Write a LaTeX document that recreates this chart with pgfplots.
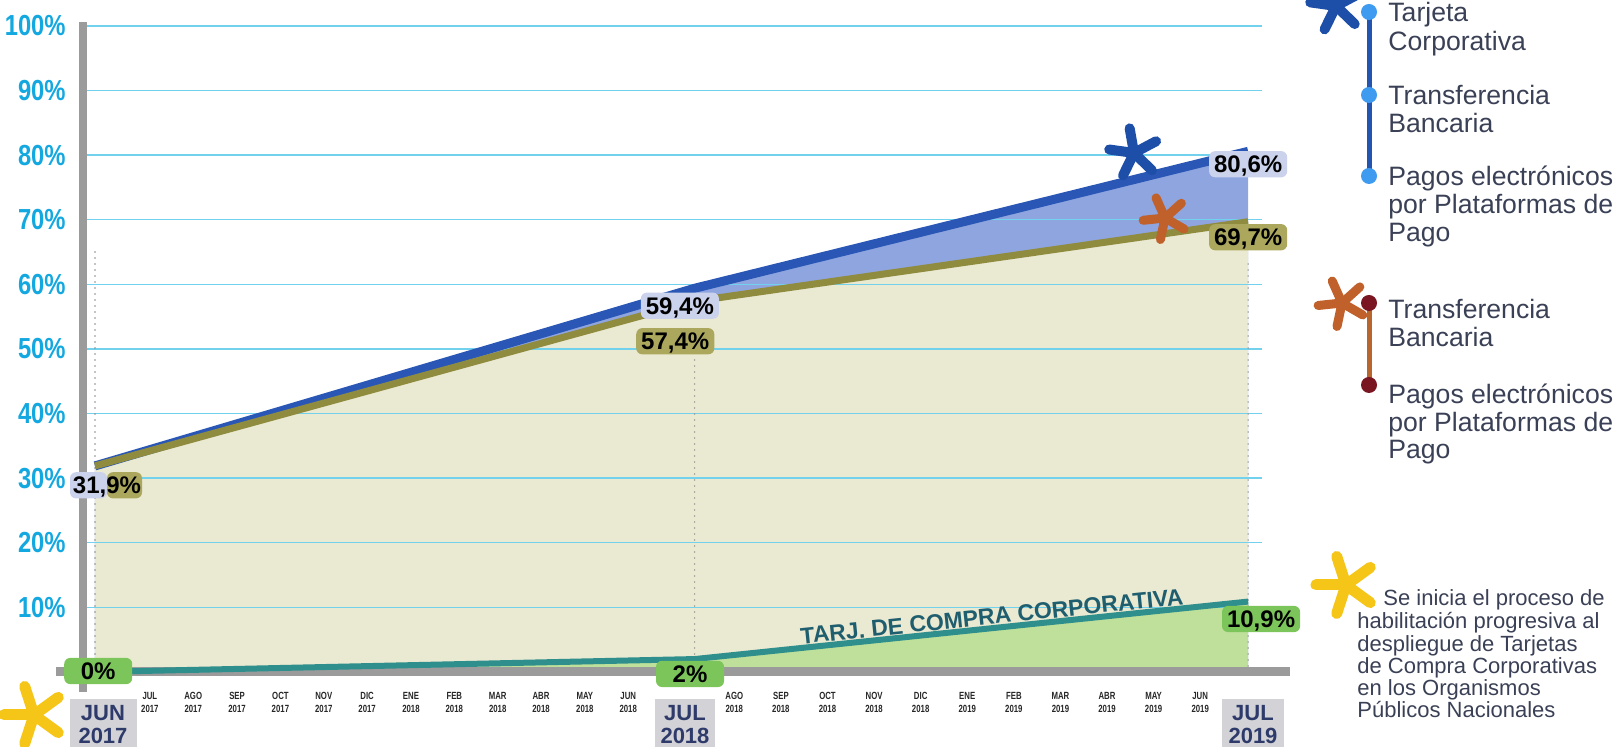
\documentclass[border=0pt]{standalone}
\usepackage{fontspec}
\setmainfont{Liberation Sans}
\newfontfamily\condfont[FakeStretch=0.82]{Liberation Sans}
\newfontfamily\narrowfont[FakeStretch=0.75]{Liberation Sans}
\usepackage{pgfplots}
\pgfplotsset{compat=1.18}
\definecolor{tickcyan}{HTML}{14A8E0}
\definecolor{gridcyan}{HTML}{72D2EE}
\definecolor{blueline}{HTML}{2A57B5}
\definecolor{bluefill}{HTML}{8FA5DF}
\definecolor{oliveline}{HTML}{8F8C3F}
\definecolor{beige}{HTML}{EAE9D2}
\definecolor{tealline}{HTML}{2F8F8C}
\definecolor{greenfill}{HTML}{BFE09A}
\definecolor{greenbox}{HTML}{7CC55A}
\definecolor{lavender}{HTML}{CBD2EC}
\definecolor{olivebox}{HTML}{ABA85E}
\definecolor{bargray}{HTML}{9B9B9B}
\definecolor{dotgray}{HTML}{8A8A8A}
\definecolor{monthgray}{HTML}{D3D3D7}
\definecolor{navy}{HTML}{2D3A6A}
\definecolor{legtext}{HTML}{3A4055}
\definecolor{tealtext}{HTML}{1F5E6E}
\definecolor{legblue}{HTML}{2354B0}
\definecolor{dotblue}{HTML}{3F9BF0}
\definecolor{legorange}{HTML}{B8652E}
\definecolor{darkred}{HTML}{7A1622}
\definecolor{astblue}{HTML}{1E4FA8}
\definecolor{astorange}{HTML}{C0602A}
\definecolor{astyellow}{HTML}{F5C518}
\newcommand{\astmark}[6]{%
  \begin{scope}[shift={(#1,#2)}]
  \foreach \a in {0,72,144,216,288}{\draw[#4, line width=#5, line cap=round] (0,0) -- ({\a+#6}:#3);}
  \end{scope}}
\tikzset{lab/.style={font=\bfseries\fontsize{12}{12}\selectfont, text=black, rounded corners=3pt, inner xsep=2.5pt, inner ysep=2.2pt, text height=8.7pt, text depth=0pt},
  gbox/.style={lab, fill=greenbox, minimum width=34pt}}
\begin{document}
\begin{tikzpicture}
\begin{axis}[
  at={(41.5pt,37.5pt)}, anchor=south west,
  scale only axis, width=589.5pt, height=323pt,
  xmin=-0.26, xmax=25.3, ymin=0, ymax=100,
  set layers, clip=false,
  axis line style={draw=none},
  major tick length=0pt,
  ytick={10,20,30,40,50,60,70,80,90,100},
  yticklabels={10\%,20\%,30\%,40\%,50\%,60\%,70\%,80\%,90\%,100\%},
  yticklabel style={font=\condfont\bfseries\fontsize{14.5}{15}\selectfont, text=tickcyan, anchor=east, inner sep=0pt, xshift=-8.5pt},
  ymajorgrids, grid style={gridcyan, line width=0.7pt},
  xtick={1.19,2.13,3.08,4.02,4.96,5.90,6.85,7.79,8.73,9.67,10.62,11.56,13.86,14.87,15.88,16.89,17.90,18.91,19.92,20.93,21.94,22.95,23.96},
  xticklabels={JUL\\2017,AGO\\2017,SEP\\2017,OCT\\2017,NOV\\2017,DIC\\2017,ENE\\2018,FEB\\2018,MAR\\2018,ABR\\2018,MAY\\2018,JUN\\2018,AGO\\2018,SEP\\2018,OCT\\2018,NOV\\2018,DIC\\2018,ENE\\2019,FEB\\2019,MAR\\2019,ABR\\2019,MAY\\2019,JUN\\2019},
  xticklabel style={font=\narrowfont\bfseries\fontsize{5.2}{6.5}\selectfont, text=black!85, align=center, inner sep=0pt, anchor=north, yshift=-10pt},
]
% areas
\addplot[draw=none, fill=bluefill, on layer=axis background] coordinates {(0,31.9) (13,59.4) (25,80.6)} \closedcycle;
\addplot[draw=none, fill=beige, on layer=axis background] coordinates {(0,31.9) (13,57.4) (25,69.7)} \closedcycle;
\addplot[draw=none, fill=greenfill, on layer=axis background] coordinates {(0,0) (13,2) (25,10.9)} \closedcycle;
% reference dotted lines
\draw[dotgray, line width=0.8pt, line cap=round, dash pattern=on 0pt off 3pt] (axis cs:0,0) -- (axis cs:0,65.8);
\draw[dotgray, line width=0.8pt, line cap=round, dash pattern=on 0pt off 3pt] (axis cs:13,0) -- (axis cs:13,49);
\draw[dotgray, line width=0.8pt, line cap=round, dash pattern=on 0pt off 3pt] (axis cs:25,0) -- (axis cs:25,64);
% axis bars
\draw[bargray, line width=4pt] (axis cs:-0.26,-3.1) -- (axis cs:-0.26,100.6);
\draw[bargray, line width=4.5pt] (axis cs:-0.85,0) -- (axis cs:25.9,0);
% lines
\addplot[blueline, line width=4.5pt, mark=none] coordinates {(0,31.9) (13,59.4) (25,80.6)};
\addplot[oliveline, line width=3.5pt, mark=none] coordinates {(0,31.9) (13,57.4) (25,69.7)};
\addplot[tealline, line width=3pt, mark=none] coordinates {(0,0) (13,2) (25,10.9)};
% labels
\node[lab, fill=olivebox, minimum width=17.5pt] at (axis cs:0.64,28.9) {};
\node[lab, fill=lavender, minimum width=18.5pt] at (axis cs:-0.14,28.9) {};
\node[lab] at (axis cs:0.26,28.9) {31,9\%};
\node[lab, fill=lavender] at (axis cs:12.68,56.7) {59,4\%};
\node[lab, fill=olivebox] at (axis cs:12.58,51.2) {57,4\%};
\node[lab, fill=lavender] at (axis cs:25,78.6) {80,6\%};
\node[lab, fill=olivebox] at (axis cs:25,67.3) {69,7\%};
\node[gbox] at (axis cs:0.07,0.15) {0\%};
\node[gbox] at (axis cs:12.9,-0.3) {2\%};
\node[gbox] at (axis cs:25.28,8.2) {10,9\%};
\node[font=\bfseries\fontsize{11.5}{12}\selectfont, text=tealtext, anchor=south, inner sep=0pt, rotate=5.9, yshift=1.6pt] at (axis cs:19.47,6.8) {TARJ. DE COMPRA CORPORATIVA};
\end{axis}
\begin{scope}[shift={(0pt,373.5pt)}, x=0.5pt, y=-0.5pt]
% month boxes
\fill[monthgray] (70,699) rectangle (137,760);
\fill[monthgray] (655,699) rectangle (715,760);
\fill[monthgray] (1222,699) rectangle (1284,760);
\node[font=\bfseries\fontsize{11}{11.5}\selectfont, text=navy, align=center, inner sep=0pt] at (103,725) {JUN\\2017};
\node[font=\bfseries\fontsize{11}{11.5}\selectfont, text=navy, align=center, inner sep=0pt] at (685,725) {JUL\\2018};
\node[font=\bfseries\fontsize{11}{11.5}\selectfont, text=navy, align=center, inner sep=0pt] at (1253,725) {JUL\\2019};
% asterisks
\astmark{1134}{153}{25}{astblue}{5pt}{44}
\astmark{1165}{218}{22}{astorange}{4.5pt}{30}
\astmark{34}{715}{30}{astyellow}{5.5pt}{36}
\astmark{1336}{6}{26}{astblue}{5pt}{44}
\astmark{1342}{303}{24}{astorange}{4.5pt}{30}
\astmark{1346}{585}{30}{astyellow}{5.5pt}{36}
% legend
\draw[legblue, line width=2.5pt] (1369,12) -- (1369,176);
\fill[dotblue] (1369,12) circle (8);
\fill[dotblue] (1369,95) circle (8);
\fill[dotblue] (1369,176) circle (8);
\draw[legorange, line width=2.5pt] (1369,303) -- (1369,385);
\fill[darkred] (1369,303) circle (8);
\fill[darkred] (1369,385) circle (8);
\begin{scope}[every node/.style={anchor=base west, inner sep=0pt, text=legtext, font=\fontsize{13.3}{14}\selectfont}]
\node at (1388,22) {Tarjeta};
\node at (1388,51) {Corporativa};
\node at (1388,105) {Transferencia};
\node at (1388,133) {Bancaria};
\node at (1388,186) {Pagos electrónicos};
\node at (1388,214) {por Plataformas de};
\node at (1388,242) {Pago};
\node at (1388,319) {Transferencia};
\node at (1388,347) {Bancaria};
\node at (1388,404) {Pagos electrónicos};
\node at (1388,432) {por Plataformas de};
\node at (1388,459) {Pago};
\end{scope}
\begin{scope}[every node/.style={anchor=base west, inner sep=0pt, text=legtext, font=\fontsize{11}{11}\selectfont}]
\node at (1383,606) {Se inicia el proceso de};
\node at (1357,629) {habilitación progresiva al};
\node at (1357,652) {despliegue de Tarjetas};
\node at (1357,674) {de Compra Corporativas};
\node at (1357,696) {en los Organismos};
\node at (1357,718) {Públicos Nacionales};
\end{scope}
\end{scope}
\pgfresetboundingbox
\useasboundingbox (0,0) rectangle (812pt,373.5pt);
\end{tikzpicture}
\end{document}
